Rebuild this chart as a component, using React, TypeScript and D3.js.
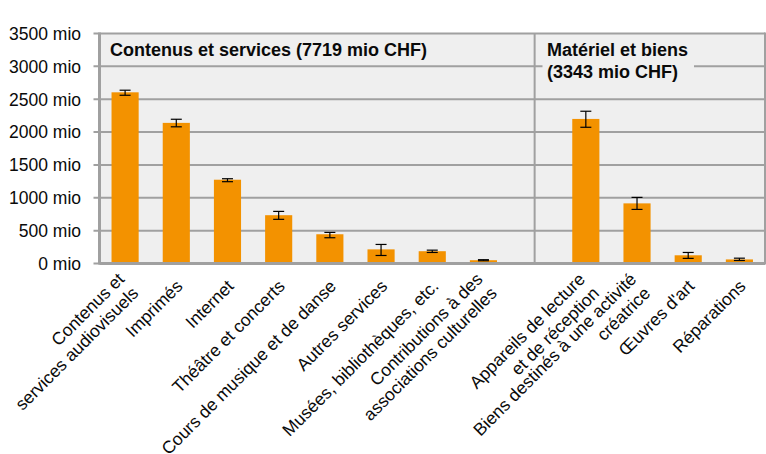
import React from "react";
import * as d3 from "d3";

const categories: string[][] = [
  ["Contenus et", "services audiovisuels"],
  ["Imprimés"],
  ["Internet"],
  ["Théâtre et concerts"],
  ["Cours de musique et de danse"],
  ["Autres services"],
  ["Musées, bibliothèques, etc."],
  ["Contributions à des", "associations culturelles"],
  [],
  ["Appareils de lecture", "et de réception"],
  ["Biens destinés à une activité", "créatrice"],
  ["Œuvres d'art"],
  ["Réparations"],
];
const values: (number | null)[] = [2605, 2140, 1275, 735, 445, 215, 187, 50, null, 2200, 915, 125, 62];
const errLow: (number | null)[] = [2560, 2080, 1245, 672, 392, 122, 168, 42, null, 2073, 823, 78, 46];
const errHigh: (number | null)[] = [2637, 2195, 1290, 793, 473, 290, 203, 58, null, 2317, 1006, 168, 81];
const yTicks: number[] = [0, 500, 1000, 1500, 2000, 2500, 3000, 3500];
const groupTitles: string[][] = [
  ["Contenus et services (7719 mio CHF)"],
  ["Matériel et biens", "(3343 mio CHF)"],
];

const W = 766;
const H = 454;
const left = 99.5;
const right = 765;
const top = 33.5;
const bottom = 263.5;
const grid = "#a0a0a0";
const bg = "#efefef";
const orange = "#f39200";
const font = "'Liberation Sans', Arial, sans-serif";

export default function App() {
  const idx = categories.map((_, i) => String(i));
  const x = d3.scaleBand<string>().domain(idx).range([left, right]).paddingInner(0.47).paddingOuter(0.235);
  const y = d3.scaleLinear().domain([0, 3500]).range([bottom, top]);
  const bw = x.bandwidth();
  const dividerX = (x("8") as number) + bw / 2;
  return (
    <svg width={W} height={H} style={{ position: "absolute", left: 0, top: 0, background: "#fff" }}>
      <rect x={left} y={top} width={right - left} height={bottom - top} fill={bg} />
      {yTicks.map((t) => (
        <g key={t}>
          <line x1={left - 6} x2={right} y1={y(t)} y2={y(t)} stroke={grid} strokeWidth={2} />
          <text x={81} y={y(t)} dy="0.36em" textAnchor="end" fontFamily={font} fontSize={17.5} fill="#0a0a0a">
            {t} mio
          </text>
        </g>
      ))}
      <line x1={left} x2={left} y1={top - 1} y2={bottom + 1} stroke={grid} strokeWidth={3} />
      <line x1={right} x2={right} y1={top - 1} y2={bottom + 1} stroke={grid} strokeWidth={2} />
      <line x1={dividerX} x2={dividerX} y1={top} y2={bottom} stroke={grid} strokeWidth={2} />
      <line x1={left} x2={right} y1={bottom} y2={bottom} stroke={grid} strokeWidth={3} />
      <rect x={542.5} y={60} width={151.5} height={14} fill={bg} />
      {groupTitles.map((lines, gi) => (
        <text key={gi} x={gi === 0 ? 110 : 547} y={56} fontFamily={font} fontWeight="bold" fontSize={18} fill="#0a0a0a">
          {lines.map((l, li) => (
            <tspan key={li} x={gi === 0 ? 110 : 547} dy={li === 0 ? 0 : 22}>
              {l}
            </tspan>
          ))}
        </text>
      ))}
      {values.map((v, i) =>
        v == null ? null : (
          <rect key={i} x={x(String(i))} y={y(v)} width={bw} height={bottom - 1.5 - y(v)} fill={orange} />
        )
      )}
      {values.map((v, i) => {
        if (v == null) return null;
        const cx = (x(String(i)) as number) + bw / 2;
        const lo = y(errLow[i] as number);
        const hi = y(errHigh[i] as number);
        return (
          <g key={i} stroke="#000" strokeWidth={1.2}>
            <line x1={cx} x2={cx} y1={lo} y2={hi} />
            <line x1={cx - 5.5} x2={cx + 5.5} y1={lo} y2={lo} />
            <line x1={cx - 5.5} x2={cx + 5.5} y1={hi} y2={hi} />
          </g>
        );
      })}
      {categories.map((lines, i) => {
        if (!lines.length) return null;
        const cx = (x(String(i)) as number) + bw / 2;
        const n = lines.length;
        return (
          <text
            key={i}
            transform={`translate(${cx + 3},${283}) rotate(-45)`}
            textAnchor="end"
            fontFamily={font}
            fontSize={17.5}
            fill="#0a0a0a"
          >
            {lines.map((l, li) => (
              <tspan key={li} x={0} y={(li - (n - 1) / 2) * 20} dy="0.35em">
                {l}
              </tspan>
            ))}
          </text>
        );
      })}
    </svg>
  );
}
